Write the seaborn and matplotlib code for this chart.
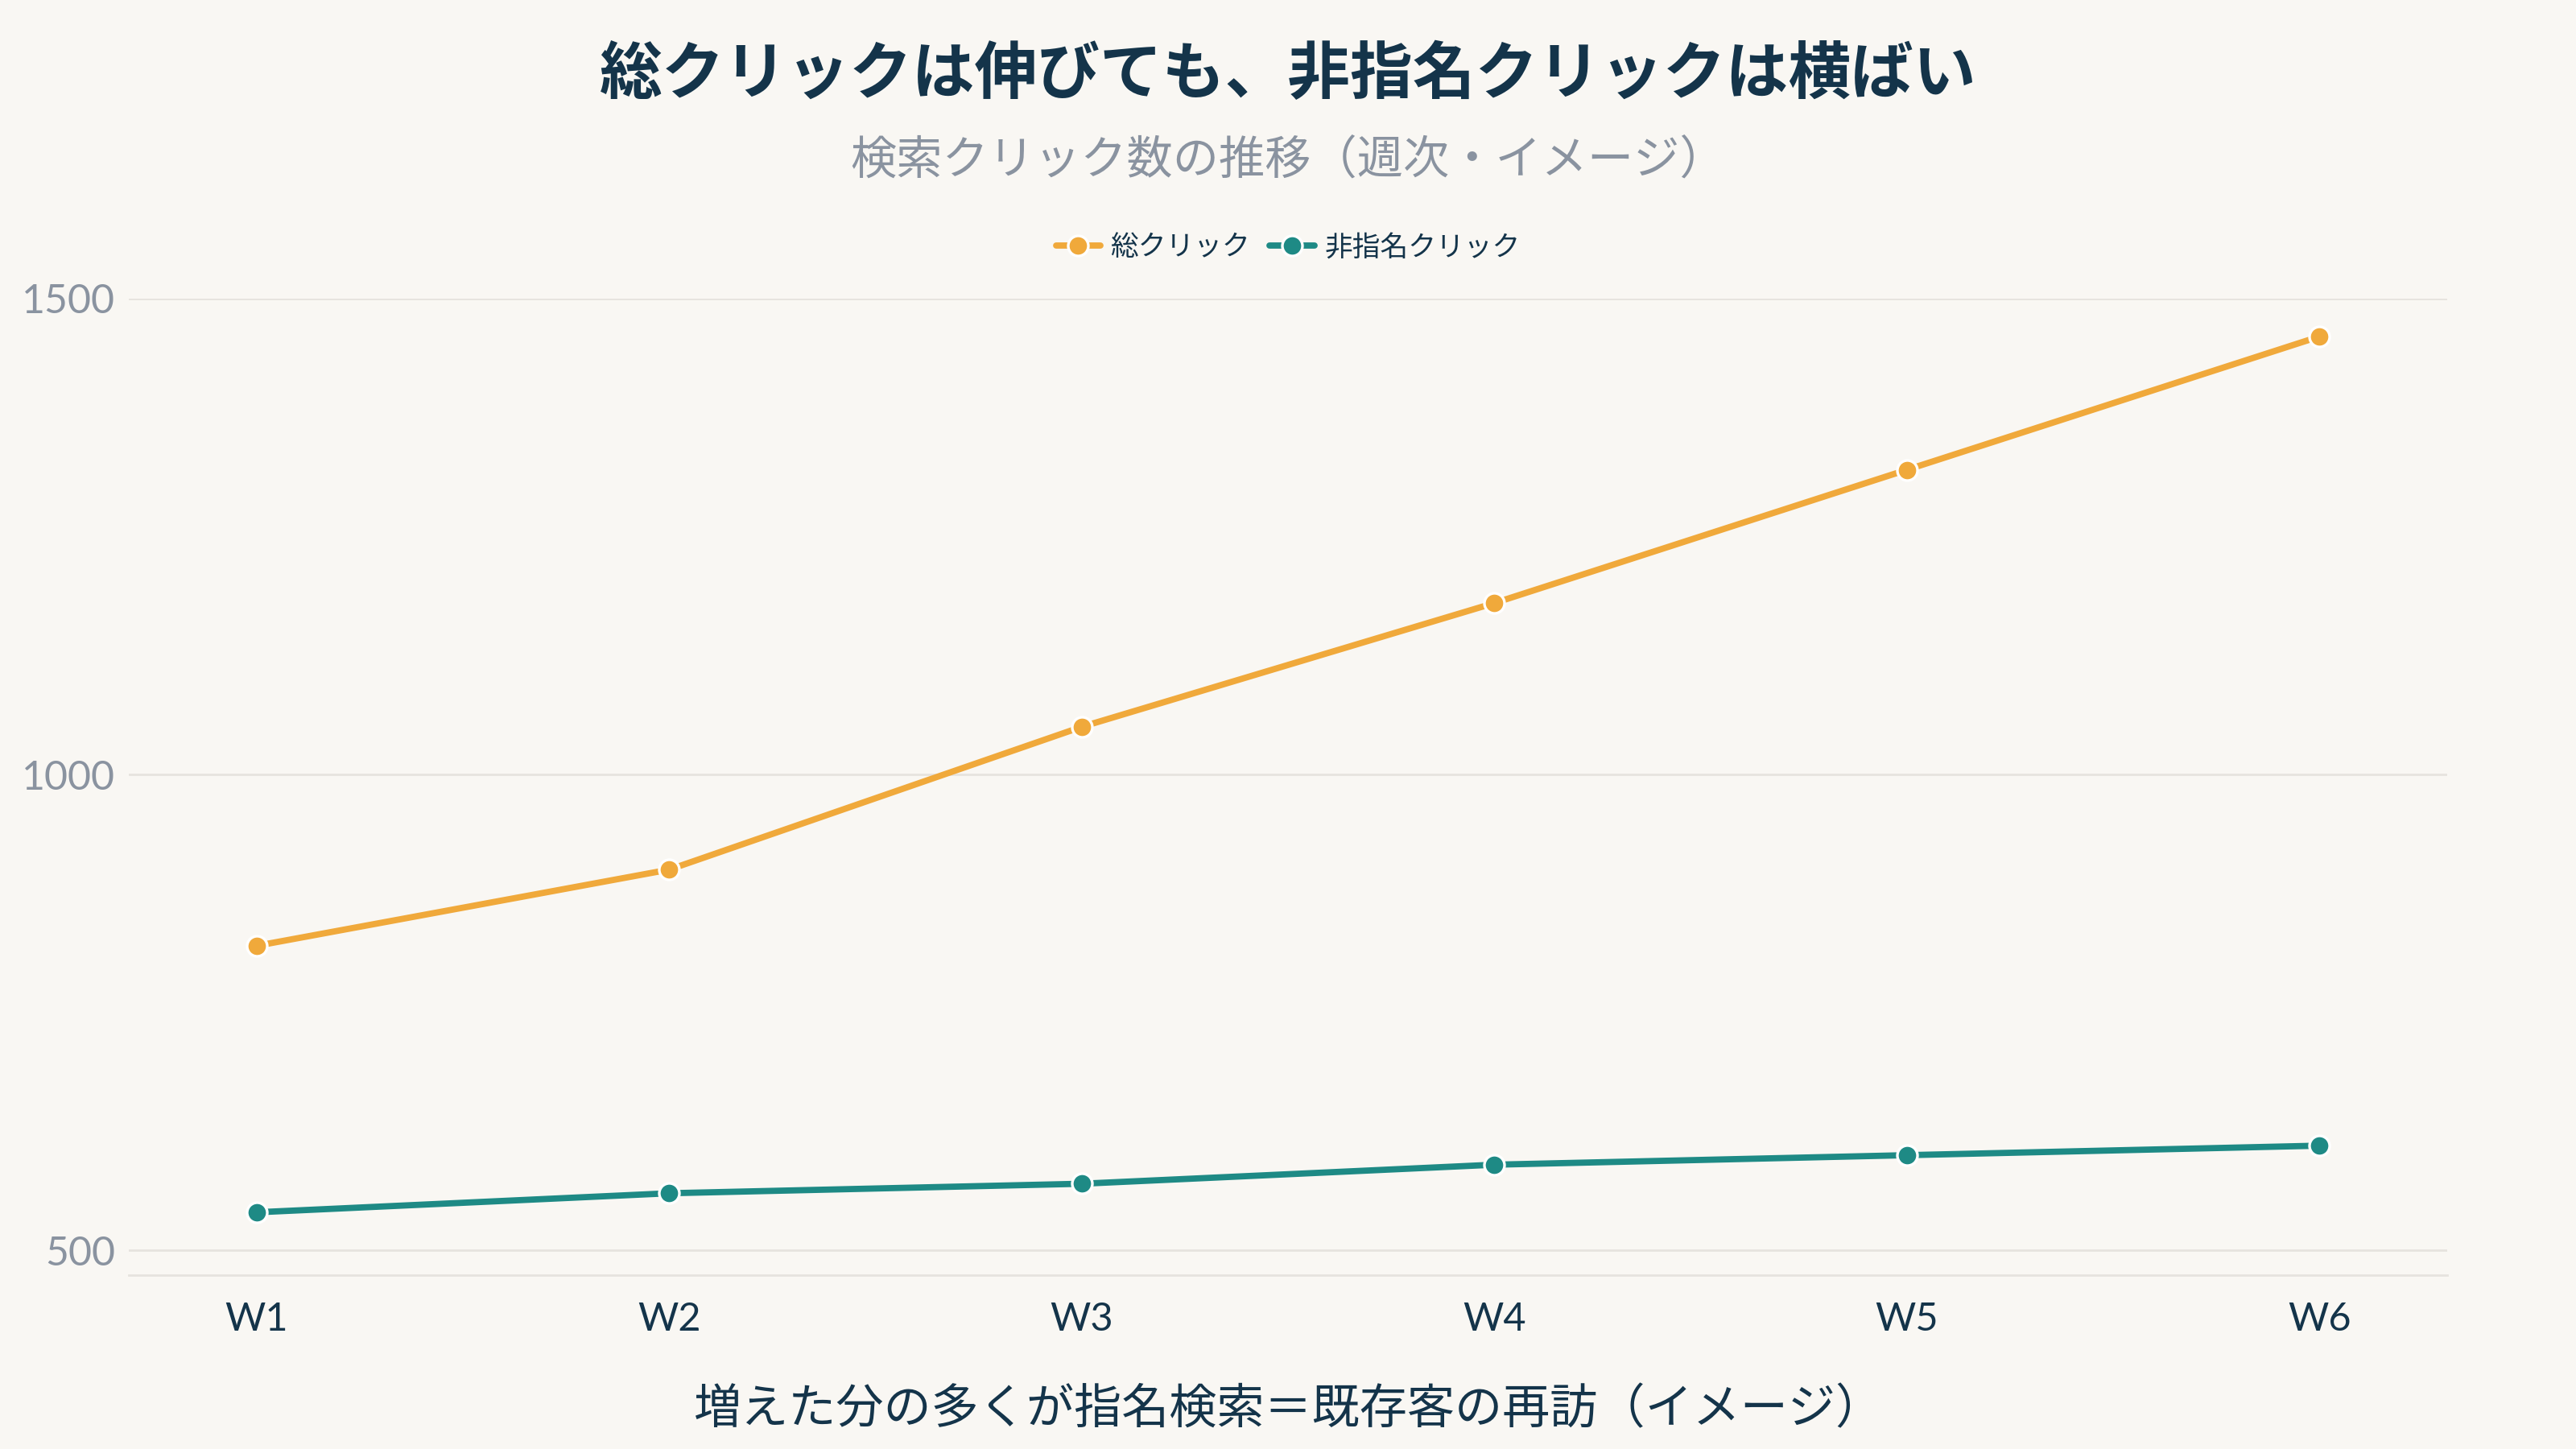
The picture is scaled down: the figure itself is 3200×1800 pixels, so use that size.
import numpy as np
import pandas as pd
import matplotlib
matplotlib.use("Agg")
import matplotlib.pyplot as plt
import seaborn as sns
from matplotlib.lines import Line2D

weeks = ["W1", "W2", "W3", "W4", "W5", "W6"]
total_clicks = [820, 900, 1050, 1180, 1320, 1460]
nonbrand_clicks = [540, 560, 570, 590, 600, 610]
series_names = ["総クリック", "非指名クリック"]
y_ticks = [500, 1000, 1500]

title = "総クリックは伸びても、非指名クリックは横ばい"
subtitle = "検索クリック数の推移（週次・イメージ）"
caption = "増えた分の多くが指名検索＝既存客の再訪（イメージ）"

BG = "#F9F7F3"
NAVY = "#14344A"
GRAY = "#8A93A0"
GRID = "#E6E3DE"
colors = {"総クリック": "#F0A93B", "非指名クリック": "#1E8A85"}

sns.set_theme(style="white")
plt.rcParams["font.family"] = ["Noto Sans CJK JP", "DejaVu Sans"]

df = pd.DataFrame({
    "week": weeks * 2,
    "x": list(range(len(weeks))) * 2,
    "clicks": total_clicks + nonbrand_clicks,
    "series": [series_names[0]] * len(weeks) + [series_names[1]] * len(weeks),
})

fig = plt.figure(figsize=(16, 9), dpi=200, facecolor=BG)
ax = fig.add_axes([0.05, 0.12, 0.90, 0.674])
ax.set_facecolor(BG)

sns.lineplot(
    data=df, x="x", y="clicks", hue="series", palette=colors,
    linewidth=2.8, marker="o", markersize=9, markeredgecolor="white",
    markeredgewidth=1.2, legend=False, ax=ax, zorder=3,
)

ax.set_xlim(-0.31, 5.31)
ax.set_ylim(474, 1500)
ax.set_yticks(y_ticks)
ax.set_xticks(range(len(weeks)))
ax.set_xticklabels(weeks)
ax.set_xlabel("")
ax.set_ylabel("")
ax.grid(axis="y", color=GRID, linewidth=1.0)
ax.grid(axis="x", visible=False)
for side in ["top", "right", "left"]:
    ax.spines[side].set_visible(False)
ax.spines["bottom"].set_color(GRID)
ax.spines["bottom"].set_linewidth(1.0)
ax.tick_params(axis="both", length=0)
ax.tick_params(axis="y", pad=6, labelsize=18, labelcolor=GRAY)
ax.tick_params(axis="x", pad=12, labelsize=17.5, labelcolor=NAVY)
for lbl in ax.get_yticklabels() + ax.get_xticklabels():
    lbl.set_fontfamily(["Lato", "DejaVu Sans"])

fig.text(0.5, 0.948, title, ha="center", va="center", fontsize=28,
         fontweight="bold", color=NAVY)
fig.text(0.5, 0.889, subtitle, ha="center", va="center", fontsize=20.6,
         color=GRAY)
fig.text(0.5, 0.027, caption, ha="center", va="center", fontsize=21.3,
         color=NAVY)

handles = [
    Line2D([0], [0], color=colors[name], linewidth=2.8, marker="o",
           markersize=9, markeredgecolor="white", markeredgewidth=1.2)
    for name in series_names
]
fig.legend(handles, series_names, loc="center", bbox_to_anchor=(0.5, 0.829),
           ncol=2, frameon=False, fontsize=12.5, labelcolor=NAVY,
           handlelength=1.6, handletextpad=0.35, columnspacing=0.7)

fig.savefig("out.png", dpi=200, facecolor=BG)
